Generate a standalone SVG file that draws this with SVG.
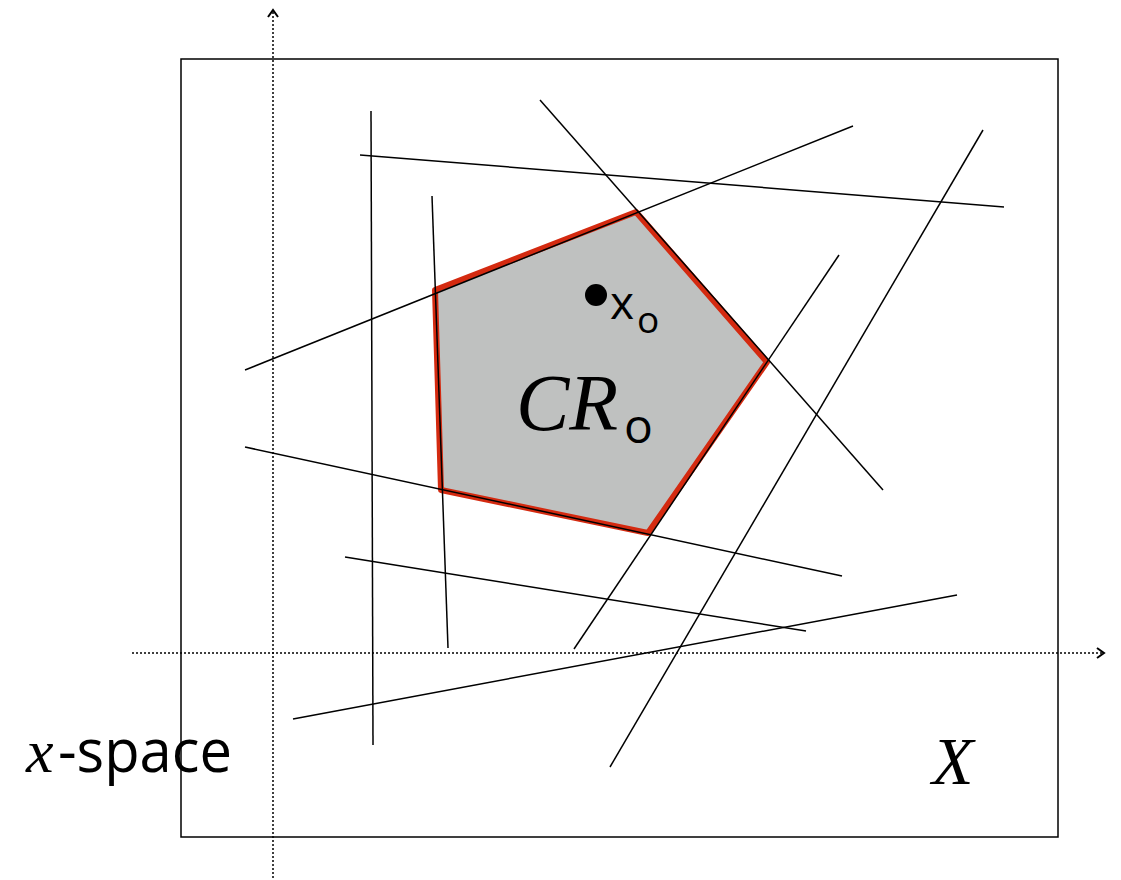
<svg xmlns="http://www.w3.org/2000/svg" width="1121" height="880" viewBox="0 0 1121 880">
<style>
.ln{stroke:#000;stroke-width:1.5;fill:none}
.ax{stroke:#000;stroke-width:1.5;stroke-dasharray:2 2;fill:none}
.serif{font-family:"Liberation Serif","DejaVu Serif",serif;font-style:italic}
.sans{font-family:"Open Sans","DejaVu Sans",sans-serif}
</style>
<defs>
<marker id="ah" markerWidth="12" markerHeight="12" refX="9" refY="6" orient="auto" markerUnits="userSpaceOnUse">
<path d="M2,1 L9,6 L2,11" fill="none" stroke="#000" stroke-width="2"/>
</marker>
</defs>
<rect width="1121" height="880" fill="#fff"/>
<g id="frame"><rect x="181" y="59" width="877" height="778" class="ln"/></g>
<g id="axes">
<line x1="273" y1="878" x2="273" y2="10" class="ax" marker-end="url(#ah)"/>
<line x1="132" y1="653" x2="1104" y2="653" class="ax" marker-end="url(#ah)"/>
</g>
<g id="region">
<polygon points="636,212 767,362 648,533 441,490 435,290" fill="#bfc1c0" stroke="#d42a10" stroke-width="6" stroke-linejoin="round"/>
</g>
<g id="connectors">
<line x1="371" y1="111" x2="373" y2="745" class="ln"/>
<line x1="360" y1="155" x2="1004" y2="207" class="ln"/>
<line x1="540" y1="100" x2="883" y2="490" class="ln"/>
<line x1="245" y1="370" x2="853" y2="126" class="ln"/>
<line x1="432" y1="196" x2="448" y2="648" class="ln"/>
<line x1="245" y1="447" x2="842" y2="576" class="ln"/>
<line x1="839" y1="255" x2="574" y2="649" class="ln"/>
<line x1="983" y1="130" x2="610" y2="767" class="ln"/>
<line x1="345" y1="557" x2="806" y2="631" class="ln"/>
<line x1="293" y1="719" x2="957" y2="595" class="ln"/>
</g>
<g id="x0">
<circle cx="596" cy="295" r="11" fill="#000"/>
<text x="610" y="319" class="sans" font-size="46">x</text>
<text x="637" y="333" class="sans" font-size="37">o</text>
</g>
<g id="cr0">
<text x="516" y="430" class="serif" font-size="80">CR</text>
<text x="624" y="443" class="sans" font-size="48">o</text>
</g>
<g id="xspace">
<text x="26" y="772" class="serif" font-size="62">x</text>
<text x="58" y="772" class="sans" font-size="60" textLength="174" lengthAdjust="spacingAndGlyphs">-space</text>
</g>
<g id="Xlabel">
<text x="932" y="784" class="serif" font-size="68">X</text>
</g>
</svg>
